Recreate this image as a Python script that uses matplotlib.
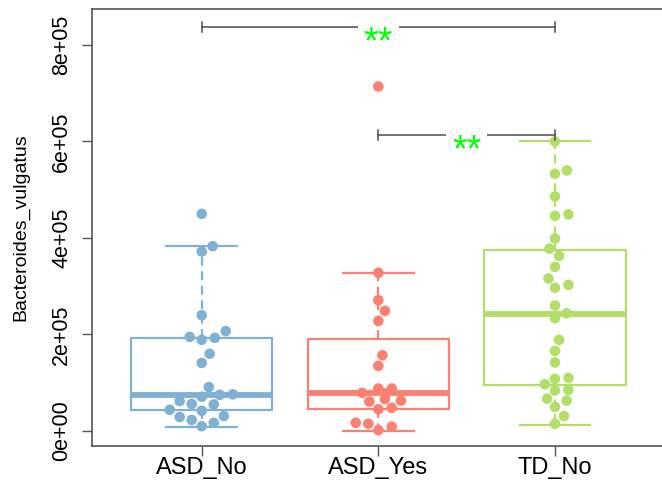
import matplotlib
matplotlib.use('Agg')
import matplotlib.pyplot as plt

plt.rcParams['font.family'] = ['Liberation Sans', 'DejaVu Sans']

groups = ['ASD_No', 'ASD_Yes', 'TD_No']
colors = ['#80B1D3', '#FB8072', '#B3DE69']

# box stats
q1 = [0.43e5, 0.45e5, 0.95e5]
med = [0.75e5, 0.78e5, 2.42e5]
q3 = [1.93e5, 1.91e5, 3.75e5]
wlo = [0.09e5, 0.01e5, 0.12e5]
whi = [3.83e5, 3.27e5, 6.00e5]

# points
asd_no = [4.50e5, 3.83e5, 3.72e5, 2.40e5, 2.07e5, 1.95e5, 1.89e5, 1.93e5, 1.60e5,
          1.41e5, 0.91e5, 0.71e5, 0.75e5, 0.76e5, 0.62e5, 0.56e5, 0.55e5, 0.44e5,
          0.42e5, 0.29e5, 0.23e5, 0.31e5, 0.17e5, 0.10e5]
asd_no_jit = [0, .062, 0, 0, .136, -.068, 0, .074, .045, 0, .040, 0, .102, .176,
              -.125, -.057, .068, -.181, 0, -.125, -.057, .125, .068, 0]
asd_yes = [7.14e5, 3.28e5, 2.71e5, 2.49e5, 2.28e5, 1.57e5, 1.35e5, 0.79e5, 0.88e5,
           0.88e5, 0.78e5, 0.61e5, 0.66e5, 0.63e5, 0.45e5, 0.48e5, 0.17e5, 0.15e5,
           0.09e5, 0.02e5]
asd_yes_jit = [0, 0, 0, .037, 0, .023, 0, -.091, 0, .076, .040, -.051, .037, .128,
               0, .076, -.128, -.057, .076, 0]
td_no = [6.00e5, 5.33e5, 5.40e5, 4.86e5, 4.46e5, 4.49e5, 3.99e5, 3.78e5, 3.63e5,
         3.40e5, 3.16e5, 3.03e5, 2.97e5, 2.60e5, 2.44e5, 2.34e5, 1.89e5, 1.66e5,
         1.42e5, 1.08e5, 1.10e5, 0.97e5, 0.84e5, 0.85e5, 0.67e5, 0.63e5, 0.50e5,
         0.31e5, 0.15e5]
td_no_jit = [0, 0, .068, 0, 0, .076, 0, -.031, .023, 0, -.037, .076, 0, 0, .066,
             0, .023, 0, 0, 0, .076, -.057, 0, .076, -.045, .066, 0, .051, 0]

# significance brackets: (from group, to group, height, label)
brackets = [(1, 3, 8.37e5, '**'), (2, 3, 6.14e5, '**')]

fig = plt.figure(figsize=(6.62, 4.83), dpi=100)
ax = fig.add_axes([91.7 / 662, 37 / 483, 1 - 91.7 / 662, 437 / 483])

stats = []
for i in range(3):
    stats.append(dict(med=med[i], q1=q1[i], q3=q3[i], whislo=wlo[i], whishi=whi[i], fliers=[]))

for i in range(3):
    c = colors[i]
    ax.bxp([stats[i]], positions=[i + 1], widths=0.8, showfliers=False,
           boxprops=dict(color=c, lw=1.6),
           medianprops=dict(color=c, lw=4.2, solid_capstyle='butt'),
           whiskerprops=dict(color=c, lw=1.6, linestyle=(0, (4, 2.5))),
           capprops=dict(color=c, lw=1.6), capwidths=0.4)

pts = [asd_no, asd_yes, td_no]
jits = [asd_no_jit, asd_yes_jit, td_no_jit]
for i in range(3):
    xs = [i + 1 + j for j in jits[i]]
    ax.scatter(xs, pts[i], s=58, color=colors[i], edgecolors='none', zorder=5)

tick = 0.1e5
for a, b, h, lab in brackets:
    ax.plot([a, b], [h, h], color='#4d4d4d', lw=1.1, zorder=6)
    ax.plot([a, a], [h - tick, h + tick], color='#4d4d4d', lw=1.1, zorder=6)
    ax.plot([b, b], [h - tick, h + tick], color='#4d4d4d', lw=1.1, zorder=6)
    ax.text((a + b) / 2, h - 0.34e5, lab, color='#00FF00', fontsize=27,
            ha='center', va='center', zorder=7,
            bbox=dict(facecolor='white', edgecolor='none', pad=4))

ax.set_xlim(0.377, 3.606)
ax.set_ylim(-0.311e5, 8.746e5)
ax.set_xticks([1, 2, 3])
ax.set_xticklabels(groups, fontsize=17)
ax.set_yticks([0, 2e5, 4e5, 6e5, 8e5])
ax.set_yticklabels(['0e+00', '2e+05', '4e+05', '6e+05', '8e+05'], fontsize=15.5,
                   rotation=90, va='center')
ax.tick_params(axis='both', length=7, color='#555555', width=1)
ax.tick_params(axis='x', pad=1)
ax.tick_params(axis='y', pad=7)
ax.set_ylabel('Bacteroides_vulgatus', fontsize=14, labelpad=16)
for s in ['left', 'top', 'bottom']:
    ax.spines[s].set_color('#555555')
    ax.spines[s].set_linewidth(1.2)
ax.spines['right'].set_visible(False)

fig.savefig('out.png', dpi=100)
